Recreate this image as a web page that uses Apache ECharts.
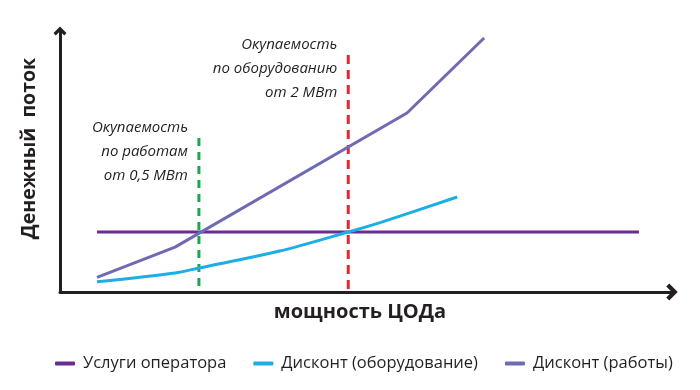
<!DOCTYPE html>
<html>
<head>
<meta charset="utf-8">
<script src="https://cdn.jsdelivr.net/npm/echarts@6/dist/echarts.min.js"></script>
<style>
html,body{margin:0;padding:0;background:#fff;}
#chart{width:700px;height:390px;}
</style>
</head>
<body>
<div id="chart"></div>
<script>
// Series names
const seriesNames = ['Услуги оператора', 'Дисконт (оборудование)', 'Дисконт (работы)'];
// Data in arbitrary units (x: 0..100 capacity, y: 0..100 cash flow)
const operatorX = [6.05, 94.6];
const operatorY = [23.0, 23.0];
const equipX = [6.05, 18.8, 22.7, 35.9, 47.1, 52.3, 64.9];
const equipY = [3.9, 7.3, 9.2, 15.7, 23.0, 26.6, 36.4];
const worksX = [6.05, 18.8, 56.7, 69.3];
const worksY = [5.6, 17.2, 68.6, 97.3];
// Payback markers
const paybackWorksX = 22.7, paybackWorksTop = 59.0;
const paybackEquipX = 47.1, paybackEquipTop = 90.8;
const paybackWorksLabel = 'Окупаемость\nпо работам\nот 0,5 МВт';
const paybackEquipLabel = 'Окупаемость\nпо оборудованию\nот 2 МВт';
const xAxisName = 'мощность ЦОДа';
const yAxisName = 'Денежный  поток';

const zip = (xs, ys) => xs.map((x, i) => [x, ys[i]]);

const FONT = 'Open Sans';
const chevron = 'path://M0,10 L10,0 L20,10 L16.5,13.5 L10,7 L3.5,13.5 Z';

const annotationLabel = {
  show: true, position: 'left', distance: 11, align: 'right',
  fontFamily: FONT, fontStyle: 'italic', fontSize: 15, color: '#231f20',
  lineHeight: 24, offset: [0, 14]
};

const chart = echarts.init(document.getElementById('chart'), null, {renderer: 'canvas'});
chart.setOption({
  animation: false,
  grid: {left: 60, right: 28, top: 31, bottom: 98},
  legend: {
    data: seriesNames,
    left: 50, top: 350,
    icon: 'roundRect', itemWidth: 20, itemHeight: 4, itemGap: 27,
    textStyle: {fontFamily: FONT, fontSize: 16.5, color: '#231f20', padding: [0, 0, 0, 3]}
  },
  xAxis: {
    type: 'value', min: 0, max: 100,
    name: xAxisName, nameLocation: 'middle', nameGap: 10,
    nameTextStyle: {fontFamily: FONT, fontWeight: 'bold', fontSize: 20, color: '#231f20', padding: [0, 12, 0, 0]},
    axisLine: {show: true, lineStyle: {color: '#231f20', width: 3}, symbol: ['none', chevron], symbolSize: [17, 12]},
    axisTick: {show: false}, axisLabel: {show: false}, splitLine: {show: false}
  },
  yAxis: {
    type: 'value', min: 0, max: 100,
    name: yAxisName, nameLocation: 'middle', nameGap: 21, nameRotate: 90,
    nameTextStyle: {fontFamily: FONT, fontWeight: 'bold', fontSize: 19.5, color: '#231f20', padding: [0, 0, 0, 26]},
    axisLine: {show: true, lineStyle: {color: '#231f20', width: 3}, symbol: ['none', chevron], symbolSize: [13, 11]},
    axisTick: {show: false}, axisLabel: {show: false}, splitLine: {show: false}
  },
  series: [
    {
      name: seriesNames[0], type: 'line', data: zip(operatorX, operatorY),
      showSymbol: false, color: '#6a2c91', lineStyle: {width: 3, color: '#6a2c91'}, z: 3
    },
    {
      name: seriesNames[1], type: 'line', data: zip(equipX, equipY), smooth: 0.3,
      showSymbol: false, color: '#1eaee6', lineStyle: {width: 3, color: '#1eaee6'}, z: 4
    },
    {
      name: seriesNames[2], type: 'line', data: zip(worksX, worksY),
      showSymbol: false, color: '#6f6ab4', lineStyle: {width: 3, color: '#6f6ab4'}, z: 4
    },
    {
      name: 'payback-works', type: 'line', data: [[paybackWorksX, paybackWorksTop], [paybackWorksX, 0]],
      showSymbol: false, lineStyle: {width: 3, color: '#1aa84c', type: [8, 6]}, z: 2,
      markPoint: {
        symbol: 'circle', symbolSize: 0,
        data: [{coord: [paybackWorksX, paybackWorksTop], label: Object.assign({}, annotationLabel, {formatter: paybackWorksLabel})}]
      }
    },
    {
      name: 'payback-equip', type: 'line', data: [[paybackEquipX, paybackEquipTop], [paybackEquipX, 0]],
      showSymbol: false, lineStyle: {width: 3, color: '#e8262e', type: [9, 6]}, z: 2,
      markPoint: {
        symbol: 'circle', symbolSize: 0,
        data: [{coord: [paybackEquipX, paybackEquipTop], label: Object.assign({}, annotationLabel, {formatter: paybackEquipLabel})}]
      }
    }
  ]
});
</script>
</body>
</html>
